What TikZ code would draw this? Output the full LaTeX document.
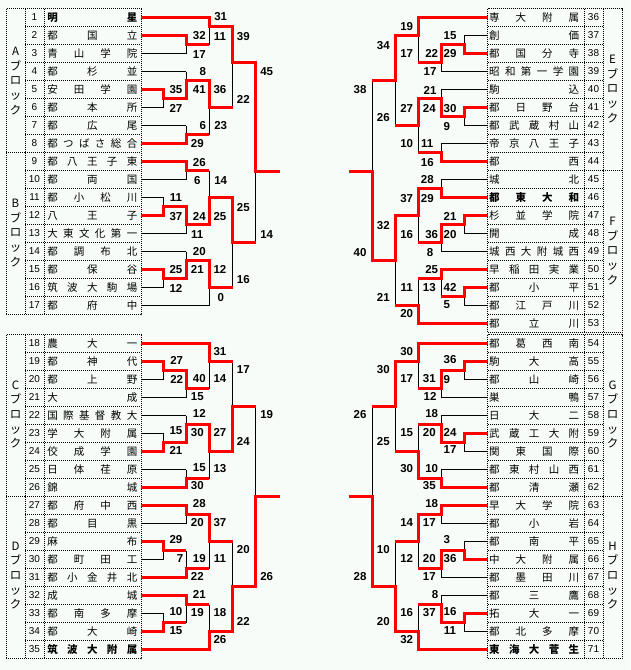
\documentclass[tikz,border=0pt]{standalone}
\usepackage{fontspec}
\setmainfont{Noto Sans CJK JP}
\newfontfamily\digf{Liberation Sans}
\definecolor{bgc}{RGB}{248,252,248}
\def\LLo{141}\def\LLa{163.5}\def\LLb{186.2}\def\LLc{209.4}\def\LLd{232.5}\def\LLe{255.8}\def\LLf{280}
\def\RRo{487.7}\def\RRa{464.4}\def\RRb{441.2}\def\RRc{418.2}\def\RRd{395.1}\def\RRe{372.2}\def\RRf{349}
\def\nmaux#1#2{#1\ifx#2\relax\else\hfill\expandafter\nmaux\expandafter#2\fi}
\newcommand\nm[1]{\makebox[90pt][s]{\nmaux#1\relax}}
\tikzset{
 bk/.style={line width=1pt,black},
 rd/.style={line width=3pt,red,line join=miter},
 dotln/.style={line width=0.8pt,dash pattern=on 1pt off 1pt},
 numst/.style={inner sep=0pt,font=\digf\fontsize{10}{10}\selectfont},
 namest/.style={inner sep=0pt,font=\fontsize{10.5}{11}\selectfont},
 namebf/.style={inner sep=0pt,font=\fontsize{10.5}{11}\selectfont\bfseries},
 sc/.style={inner sep=0pt,font=\digf\bfseries\fontsize{11.5}{12}\selectfont},
 blk/.style={inner sep=0pt,align=center,font=\fontsize{11.5}{14.6}\selectfont},
}
\newcommand\lteam[4][namest]{\node[numst] (n#2) at (34.5,#3) {#2};\node[#1] (t#2) at (92.3,#3) {\nm{#4}};}
\newcommand\rteam[4][namest]{\node[numst] (n#2) at (593.5,#3) {#2};\node[#1] (t#2) at (534.2,#3) {\nm{#4}};}
\newcommand\mtc[5]{\draw[bk] (#1,#2) -- (#1,#3) (#1,#4) -- (#5,#4);}
\newcommand\scr[4]{\node[sc] (#1) at (#2,#3) {#4};}
\begin{document}
\begin{tikzpicture}[x=1pt,y=-1pt]
\fill[bgc] (0,0) rectangle (630,670);
\useasboundingbox (0,0) rectangle (630,670);
% ---------- tables ----------
\draw[dotln] (6,8.5) rectangle (141,314.5);
\draw[dotln] (25,8.5) -- (25,314.5) (44,8.5) -- (44,314.5) (6,152.5) -- (25,152.5);
\foreach \k in {1,...,16} \draw[dotln] (25,{8.5+18*\k}) -- (141,{8.5+18*\k});
\draw[dotln] (6,334.5) rectangle (141,658.5);
\draw[dotln] (25,334.5) -- (25,658.5) (44,334.5) -- (44,658.5) (6,496.5) -- (25,496.5);
\foreach \k in {1,...,17} \draw[dotln] (25,{334.5+18*\k}) -- (141,{334.5+18*\k});
\draw[dotln] (487.7,8.5) rectangle (622,332.5);
\draw[dotln] (584,8.5) -- (584,332.5) (603,8.5) -- (603,332.5) (603,170.5) -- (622,170.5);
\foreach \k in {1,...,17} \draw[dotln] (487.7,{8.5+18*\k}) -- (603,{8.5+18*\k});
\draw[dotln] (487.7,334.5) rectangle (622,658.5);
\draw[dotln] (584,334.5) -- (584,658.5) (603,334.5) -- (603,658.5) (603,496.5) -- (622,496.5);
\foreach \k in {1,...,17} \draw[dotln] (487.7,{334.5+18*\k}) -- (603,{334.5+18*\k});
% block labels
\node[blk] (bA) at (15.5,81) {A\\ブ\\ロ\\ッ\\ク};
\node[blk] (bB) at (15.5,233) {B\\ブ\\ロ\\ッ\\ク};
\node[blk] (bC) at (15.5,414.5) {C\\ブ\\ロ\\ッ\\ク};
\node[blk] (bD) at (15.5,575.5) {D\\ブ\\ロ\\ッ\\ク};
\node[blk] (bE) at (612.5,89) {E\\ブ\\ロ\\ッ\\ク};
\node[blk] (bF) at (612.5,251) {F\\ブ\\ロ\\ッ\\ク};
\node[blk] (bG) at (612.5,414.5) {G\\ブ\\ロ\\ッ\\ク};
\node[blk] (bH) at (612.5,575.5) {H\\ブ\\ロ\\ッ\\ク};
% teams left
\lteam[namebf]{1}{17.5}{明星}
\lteam{2}{35.5}{都国立}
\lteam{3}{53.5}{青山学院}
\lteam{4}{71.5}{都杉並}
\lteam{5}{89.5}{安田学園}
\lteam{6}{107.5}{都本所}
\lteam{7}{125.5}{都広尾}
\lteam{8}{143.5}{都つばさ総合}
\lteam{9}{161.5}{都八王子東}
\lteam{10}{179.5}{都両国}
\lteam{11}{197.5}{都小松川}
\lteam{12}{215.5}{八王子}
\lteam{13}{233.5}{大東文化第一}
\lteam{14}{251.5}{都調布北}
\lteam{15}{269.5}{都保谷}
\lteam{16}{287.5}{筑波大駒場}
\lteam{17}{305.5}{都府中}
\lteam{18}{343.5}{農大一}
\lteam{19}{361.5}{都神代}
\lteam{20}{379.5}{都上野}
\lteam{21}{397.5}{大成}
\lteam{22}{415.5}{国際基督教大}
\lteam{23}{433.5}{学大附属}
\lteam{24}{451.5}{佼成学園}
\lteam{25}{469.5}{日体荏原}
\lteam{26}{487.5}{錦城}
\lteam{27}{505.5}{都府中西}
\lteam{28}{523.5}{都目黒}
\lteam{29}{541.5}{麻布}
\lteam{30}{559.5}{都町田工}
\lteam{31}{577.5}{都小金井北}
\lteam{32}{595.5}{成城}
\lteam{33}{613.5}{都南多摩}
\lteam{34}{631.5}{都大崎}
\lteam[namebf]{35}{649.5}{筑波大附属}
% teams right
\rteam{36}{17.5}{専大附属}
\rteam{37}{35.5}{創価}
\rteam{38}{53.5}{都国分寺}
\rteam{39}{71.5}{昭和第一学園}
\rteam{40}{89.5}{駒込}
\rteam{41}{107.5}{都日野台}
\rteam{42}{125.5}{都武蔵村山}
\rteam{43}{143.5}{帝京八王子}
\rteam{44}{161.5}{都西}
\rteam{45}{179.5}{城北}
\rteam[namebf]{46}{197.5}{都東大和}
\rteam{47}{215.5}{杉並学院}
\rteam{48}{233.5}{開成}
\rteam{49}{251.5}{城西大附城西}
\rteam{50}{269.5}{早稲田実業}
\rteam{51}{287.5}{都小平}
\rteam{52}{305.5}{都江戸川}
\rteam{53}{323.5}{都立川}
\rteam{54}{343.5}{都葛西南}
\rteam{55}{361.5}{駒大高}
\rteam{56}{379.5}{都山崎}
\rteam{57}{397.5}{巣鴨}
\rteam{58}{415.5}{日大二}
\rteam{59}{433.5}{武蔵工大附}
\rteam{60}{451.5}{関東国際}
\rteam{61}{469.5}{都東村山西}
\rteam{62}{487.5}{都清瀬}
\rteam{63}{505.5}{早大学院}
\rteam{64}{523.5}{都小岩}
\rteam{65}{541.5}{都南平}
\rteam{66}{559.5}{中大附属}
\rteam{67}{577.5}{都墨田川}
\rteam{68}{595.5}{都三鷹}
\rteam{69}{613.5}{拓大一}
\rteam{70}{631.5}{都北多摩}
\rteam[namebf]{71}{649.5}{東海大菅生}
% ---------- black skeleton ----------
\foreach \y/\x in {17.5/\LLc,35.5/\LLb,53.5/\LLb,71.5/\LLb,89.5/\LLa,107.5/\LLa,125.5/\LLb,143.5/\LLb,161.5/\LLb,179.5/\LLb,197.5/\LLa,215.5/\LLa,233.5/\LLb,251.5/\LLb,269.5/\LLa,287.5/\LLa,305.5/\LLc,
 343.5/\LLc,361.5/\LLa,379.5/\LLa,397.5/\LLb,415.5/\LLb,433.5/\LLa,451.5/\LLa,469.5/\LLb,487.5/\LLb,505.5/\LLb,523.5/\LLb,541.5/\LLa,559.5/\LLa,577.5/\LLb,595.5/\LLb,613.5/\LLa,631.5/\LLa,649.5/\LLc}
 \draw[bk] (\LLo,\y) -- (\x,\y);
\foreach \y/\x in {17.5/\RRc,35.5/\RRa,53.5/\RRa,71.5/\RRb,89.5/\RRb,107.5/\RRa,125.5/\RRa,143.5/\RRb,161.5/\RRb,179.5/\RRb,197.5/\RRb,215.5/\RRa,233.5/\RRa,251.5/\RRb,269.5/\RRb,287.5/\RRa,305.5/\RRa,323.5/\RRc,
 343.5/\RRc,361.5/\RRa,379.5/\RRa,397.5/\RRb,415.5/\RRb,433.5/\RRa,451.5/\RRa,469.5/\RRb,487.5/\RRb,505.5/\RRb,523.5/\RRb,541.5/\RRa,559.5/\RRa,577.5/\RRb,595.5/\RRb,613.5/\RRa,631.5/\RRa,649.5/\RRc}
 \draw[bk] (\RRo,\y) -- (\x,\y);
% left upper
\mtc{\LLb}{35.5}{53.5}{44.5}{\LLc}
\mtc{\LLc}{17.5}{44.5}{26.5}{\LLd}
\mtc{\LLa}{89.5}{107.5}{98.5}{\LLb}
\mtc{\LLb}{71.5}{98.5}{80.5}{\LLc}
\mtc{\LLb}{125.5}{143.5}{134.5}{\LLc}
\mtc{\LLc}{80.5}{134.5}{107.5}{\LLd}
\mtc{\LLd}{26.5}{107.5}{62.5}{\LLe}
\mtc{\LLb}{161.5}{179.5}{170.5}{\LLc}
\mtc{\LLa}{197.5}{215.5}{206.5}{\LLb}
\mtc{\LLb}{206.5}{233.5}{224.5}{\LLc}
\mtc{\LLc}{170.5}{224.5}{197.5}{\LLd}
\mtc{\LLa}{269.5}{287.5}{278.5}{\LLb}
\mtc{\LLb}{251.5}{278.5}{260.5}{\LLc}
\mtc{\LLc}{260.5}{305.5}{287.5}{\LLd}
\mtc{\LLd}{197.5}{287.5}{242.5}{\LLe}
\mtc{\LLe}{62.5}{242.5}{171}{\LLf}
% left lower
\mtc{\LLa}{361.5}{379.5}{370.5}{\LLb}
\mtc{\LLb}{370.5}{397.5}{388.5}{\LLc}
\mtc{\LLc}{343.5}{388.5}{361.5}{\LLd}
\mtc{\LLa}{433.5}{451.5}{442.5}{\LLb}
\mtc{\LLb}{415.5}{442.5}{424.5}{\LLc}
\mtc{\LLb}{469.5}{487.5}{478.5}{\LLc}
\mtc{\LLc}{424.5}{478.5}{451.5}{\LLd}
\mtc{\LLd}{361.5}{451.5}{406.5}{\LLe}
\mtc{\LLb}{505.5}{523.5}{514.5}{\LLc}
\mtc{\LLa}{541.5}{559.5}{550.5}{\LLb}
\mtc{\LLb}{550.5}{577.5}{568.5}{\LLc}
\mtc{\LLc}{514.5}{568.5}{541.5}{\LLd}
\mtc{\LLa}{613.5}{631.5}{622.5}{\LLb}
\mtc{\LLb}{595.5}{622.5}{604.5}{\LLc}
\mtc{\LLc}{604.5}{649.5}{631.5}{\LLd}
\mtc{\LLd}{541.5}{631.5}{586.5}{\LLe}
\mtc{\LLe}{406.5}{586.5}{496.5}{\LLf}
% right upper
\mtc{\RRa}{35.5}{53.5}{44.5}{\RRb}
\mtc{\RRb}{44.5}{71.5}{62.5}{\RRc}
\mtc{\RRc}{17.5}{62.5}{35.5}{\RRd}
\mtc{\RRa}{107.5}{125.5}{116.5}{\RRb}
\mtc{\RRb}{89.5}{116.5}{98.5}{\RRc}
\mtc{\RRb}{143.5}{161.5}{152.5}{\RRc}
\mtc{\RRc}{98.5}{152.5}{125.5}{\RRd}
\mtc{\RRd}{35.5}{125.5}{80.5}{\RRe}
\mtc{\RRb}{179.5}{197.5}{188.5}{\RRc}
\mtc{\RRa}{215.5}{233.5}{224.5}{\RRb}
\mtc{\RRb}{224.5}{251.5}{242.5}{\RRc}
\mtc{\RRc}{188.5}{242.5}{215.5}{\RRd}
\mtc{\RRa}{287.5}{305.5}{296.5}{\RRb}
\mtc{\RRb}{269.5}{296.5}{278.5}{\RRc}
\mtc{\RRc}{278.5}{323.5}{305.5}{\RRd}
\mtc{\RRd}{215.5}{305.5}{260.5}{\RRe}
\mtc{\RRe}{80.5}{260.5}{171}{\RRf}
% right lower
\mtc{\RRa}{361.5}{379.5}{370.5}{\RRb}
\mtc{\RRb}{370.5}{397.5}{388.5}{\RRc}
\mtc{\RRc}{343.5}{388.5}{361.5}{\RRd}
\mtc{\RRa}{433.5}{451.5}{442.5}{\RRb}
\mtc{\RRb}{415.5}{442.5}{424.5}{\RRc}
\mtc{\RRb}{469.5}{487.5}{478.5}{\RRc}
\mtc{\RRc}{424.5}{478.5}{451.5}{\RRd}
\mtc{\RRd}{361.5}{451.5}{406.5}{\RRe}
\mtc{\RRb}{505.5}{523.5}{514.5}{\RRc}
\mtc{\RRa}{541.5}{559.5}{550.5}{\RRb}
\mtc{\RRb}{550.5}{577.5}{568.5}{\RRc}
\mtc{\RRc}{514.5}{568.5}{541.5}{\RRd}
\mtc{\RRa}{613.5}{631.5}{622.5}{\RRb}
\mtc{\RRb}{595.5}{622.5}{604.5}{\RRc}
\mtc{\RRc}{604.5}{649.5}{631.5}{\RRd}
\mtc{\RRd}{541.5}{631.5}{586.5}{\RRe}
\mtc{\RRe}{406.5}{586.5}{496.5}{\RRf}
% ---------- red winner paths ----------
\draw[rd] (\LLo,17.5) -- (\LLc,17.5) -- (\LLc,26.5) -- (\LLd,26.5) -- (\LLd,62.5) -- (\LLe,62.5) -- (\LLe,171) -- (\LLf,171);
\draw[rd] (\LLo,35.5) -- (\LLb,35.5) -- (\LLb,44.5) -- (\LLc,44.5);
\draw[rd] (\LLo,89.5) -- (\LLa,89.5) -- (\LLa,98.5) -- (\LLb,98.5) -- (\LLb,80.5) -- (\LLc,80.5) -- (\LLc,107.5) -- (\LLd,107.5);
\draw[rd] (\LLo,143.5) -- (\LLb,143.5) -- (\LLb,134.5) -- (\LLc,134.5);
\draw[rd] (\LLo,161.5) -- (\LLb,161.5) -- (\LLb,170.5) -- (\LLc,170.5);
\draw[rd] (\LLo,215.5) -- (\LLa,215.5) -- (\LLa,206.5) -- (\LLb,206.5) -- (\LLb,224.5) -- (\LLc,224.5) -- (\LLc,197.5) -- (\LLd,197.5) -- (\LLd,242.5) -- (\LLe,242.5);
\draw[rd] (\LLo,269.5) -- (\LLa,269.5) -- (\LLa,278.5) -- (\LLb,278.5) -- (\LLb,260.5) -- (\LLc,260.5) -- (\LLc,287.5) -- (\LLd,287.5);
\draw[rd] (\LLo,343.5) -- (\LLc,343.5) -- (\LLc,361.5) -- (\LLd,361.5);
\draw[rd] (\LLo,361.5) -- (\LLa,361.5) -- (\LLa,370.5) -- (\LLb,370.5) -- (\LLb,388.5) -- (\LLc,388.5);
\draw[rd] (\LLo,451.5) -- (\LLa,451.5) -- (\LLa,442.5) -- (\LLb,442.5) -- (\LLb,424.5) -- (\LLc,424.5) -- (\LLc,451.5) -- (\LLd,451.5) -- (\LLd,406.5) -- (\LLe,406.5);
\draw[rd] (\LLo,487.5) -- (\LLb,487.5) -- (\LLb,478.5) -- (\LLc,478.5);
\draw[rd] (\LLo,505.5) -- (\LLb,505.5) -- (\LLb,514.5) -- (\LLc,514.5) -- (\LLc,541.5) -- (\LLd,541.5);
\draw[rd] (\LLo,541.5) -- (\LLa,541.5) -- (\LLa,550.5) -- (\LLb,550.5);
\draw[rd] (\LLo,577.5) -- (\LLb,577.5) -- (\LLb,568.5) -- (\LLc,568.5);
\draw[rd] (\LLo,595.5) -- (\LLb,595.5) -- (\LLb,604.5) -- (\LLc,604.5);
\draw[rd] (\LLo,631.5) -- (\LLa,631.5) -- (\LLa,622.5) -- (\LLb,622.5);
\draw[rd] (\LLo,649.5) -- (\LLc,649.5) -- (\LLc,631.5) -- (\LLd,631.5) -- (\LLd,586.5) -- (\LLe,586.5) -- (\LLe,496.5) -- (\LLf,496.5);
\draw[rd] (\RRo,17.5) -- (\RRc,17.5) -- (\RRc,35.5) -- (\RRd,35.5) -- (\RRd,80.5) -- (\RRe,80.5);
\draw[rd] (\RRo,53.5) -- (\RRa,53.5) -- (\RRa,44.5) -- (\RRb,44.5) -- (\RRb,62.5) -- (\RRc,62.5);
\draw[rd] (\RRo,107.5) -- (\RRa,107.5) -- (\RRa,116.5) -- (\RRb,116.5) -- (\RRb,98.5) -- (\RRc,98.5) -- (\RRc,125.5) -- (\RRd,125.5);
\draw[rd] (\RRo,161.5) -- (\RRb,161.5) -- (\RRb,152.5) -- (\RRc,152.5);
\draw[rd] (\RRo,197.5) -- (\RRb,197.5) -- (\RRb,188.5) -- (\RRc,188.5) -- (\RRc,215.5) -- (\RRd,215.5) -- (\RRd,260.5) -- (\RRe,260.5) -- (\RRe,171) -- (\RRf,171);
\draw[rd] (\RRo,215.5) -- (\RRa,215.5) -- (\RRa,224.5) -- (\RRb,224.5) -- (\RRb,242.5) -- (\RRc,242.5);
\draw[rd] (\RRo,269.5) -- (\RRb,269.5) -- (\RRb,278.5) -- (\RRc,278.5);
\draw[rd] (\RRo,287.5) -- (\RRa,287.5) -- (\RRa,296.5) -- (\RRb,296.5);
\draw[rd] (\RRo,323.5) -- (\RRc,323.5) -- (\RRc,305.5) -- (\RRd,305.5);
\draw[rd] (\RRo,343.5) -- (\RRc,343.5) -- (\RRc,361.5) -- (\RRd,361.5) -- (\RRd,406.5) -- (\RRe,406.5);
\draw[rd] (\RRo,361.5) -- (\RRa,361.5) -- (\RRa,370.5) -- (\RRb,370.5) -- (\RRb,388.5) -- (\RRc,388.5);
\draw[rd] (\RRo,433.5) -- (\RRa,433.5) -- (\RRa,442.5) -- (\RRb,442.5) -- (\RRb,424.5) -- (\RRc,424.5);
\draw[rd] (\RRo,487.5) -- (\RRb,487.5) -- (\RRb,478.5) -- (\RRc,478.5) -- (\RRc,451.5) -- (\RRd,451.5);
\draw[rd] (\RRo,505.5) -- (\RRb,505.5) -- (\RRb,514.5) -- (\RRc,514.5) -- (\RRc,541.5) -- (\RRd,541.5);
\draw[rd] (\RRo,559.5) -- (\RRa,559.5) -- (\RRa,550.5) -- (\RRb,550.5) -- (\RRb,568.5) -- (\RRc,568.5);
\draw[rd] (\RRo,613.5) -- (\RRa,613.5) -- (\RRa,622.5) -- (\RRb,622.5) -- (\RRb,604.5) -- (\RRc,604.5);
\draw[rd] (\RRo,649.5) -- (\RRc,649.5) -- (\RRc,631.5) -- (\RRd,631.5) -- (\RRd,586.5) -- (\RRe,586.5) -- (\RRe,496.5) -- (\RRf,496.5);
% ---------- scores ----------
\scr{a1}{199.3}{36}{32}\scr{a2}{199.3}{54.3}{17}
\scr{a3}{220.7}{16.7}{31}\scr{a4}{220}{36.7}{11}
\scr{a5}{176}{90}{35}\scr{a6}{176}{108.3}{27}
\scr{a7}{202.7}{71.7}{8}\scr{a8}{199.3}{90}{41}
\scr{a9}{202.7}{126}{6}\scr{a10}{197.3}{144}{29}
\scr{a11}{220}{90}{36}\scr{a12}{220.7}{126}{23}
\scr{a13}{243.3}{36.7}{39}\scr{a14}{243.3}{99}{22}
\scr{b1}{199.3}{162.3}{26}\scr{b2}{197.3}{180.7}{6}
\scr{b3}{176}{197.7}{11}\scr{b4}{176}{216.7}{37}
\scr{b5}{199.3}{216.7}{24}\scr{b6}{197.3}{235}{11}
\scr{b7}{220.7}{180.7}{14}\scr{b8}{220}{216.7}{25}
\scr{b9}{176}{269.3}{25}\scr{b10}{176}{288.3}{12}
\scr{b11}{199.3}{251.7}{20}\scr{b12}{197.3}{269.3}{21}
\scr{b13}{220}{269.3}{12}\scr{b14}{220.7}{297.3}{0}
\scr{b15}{243.3}{207.3}{25}\scr{b16}{243.3}{279.3}{16}
\scr{ab1}{266.7}{71.7}{45}\scr{ab2}{266.7}{235}{14}
\scr{c1}{176.7}{360}{27}\scr{c2}{176.7}{379}{22}
\scr{c3}{199.3}{378.3}{40}\scr{c4}{197.3}{396.7}{15}
\scr{c5}{220}{351.7}{31}\scr{c6}{220}{379}{14}
\scr{c7}{176}{431}{15}\scr{c8}{176}{450}{21}
\scr{c9}{199.3}{413.3}{12}\scr{c10}{197.3}{432.7}{30}
\scr{c11}{199.3}{467.3}{15}\scr{c12}{197.3}{486}{30}
\scr{c13}{220}{432.7}{27}\scr{c14}{220}{468.3}{13}
\scr{c15}{243.3}{369.3}{17}\scr{c16}{243.3}{441.7}{24}
\scr{d1}{199.3}{503.3}{28}\scr{d2}{197.3}{522.7}{20}
\scr{d3}{176}{540}{29}\scr{d4}{180}{558.7}{7}
\scr{d5}{199.3}{558.7}{19}\scr{d6}{197.3}{576.7}{22}
\scr{d7}{220}{522.7}{37}\scr{d8}{220}{558.7}{11}
\scr{d9}{176}{611.7}{10}\scr{d10}{176}{630.7}{15}
\scr{d11}{199.3}{594}{21}\scr{d12}{197.3}{612.7}{19}
\scr{d13}{220}{612.7}{18}\scr{d14}{220}{640}{26}
\scr{d15}{243.3}{549.3}{20}\scr{d16}{243.3}{621.7}{22}
\scr{cd1}{266.7}{415}{19}\scr{cd2}{266.7}{576.7}{26}
\scr{e1}{450}{36}{15}\scr{e2}{450}{53.3}{29}
\scr{e3}{431.7}{53.3}{22}\scr{e4}{430}{71.7}{17}
\scr{e5}{406.7}{26.7}{19}\scr{e6}{406.7}{54}{17}
\scr{e7}{450}{108.3}{30}\scr{e8}{446.7}{126.7}{9}
\scr{e9}{430}{90}{21}\scr{e10}{429.3}{108.3}{24}
\scr{e11}{427.3}{144}{11}\scr{e12}{427.3}{162.3}{16}
\scr{e13}{406.7}{108.3}{27}\scr{e14}{406.7}{144}{10}
\scr{e15}{383.3}{45.7}{34}\scr{e16}{383.3}{117.3}{26}
\scr{f1}{427.3}{180}{28}\scr{f2}{427.3}{198.3}{29}
\scr{f3}{450}{216}{21}\scr{f4}{450}{234.3}{20}
\scr{f5}{431.7}{234.3}{36}\scr{f6}{430}{252.3}{8}
\scr{f7}{406.7}{198.3}{37}\scr{f8}{406.7}{234.3}{16}
\scr{f9}{450}{287.3}{42}\scr{f10}{446.7}{305}{5}
\scr{f11}{431.7}{269.3}{25}\scr{f12}{429.3}{287.3}{13}
\scr{f13}{406.7}{287.3}{11}\scr{f14}{406.7}{314}{20}
\scr{f15}{383.3}{226}{32}\scr{f16}{383.3}{297.3}{21}
\scr{ef1}{360}{90}{38}\scr{ef2}{360}{252.7}{40}
\scr{g1}{450}{360}{36}\scr{g2}{446.7}{379.3}{9}
\scr{g3}{429.3}{378.3}{31}\scr{g4}{430}{396.7}{12}
\scr{g5}{406.7}{351.7}{30}\scr{g6}{406.7}{379}{17}
\scr{g7}{450}{432.3}{24}\scr{g8}{450}{450}{17}
\scr{g9}{431.7}{413.3}{18}\scr{g10}{429.3}{432.3}{20}
\scr{g11}{431.7}{468.3}{10}\scr{g12}{429.3}{486}{35}
\scr{g13}{406.7}{432.3}{15}\scr{g14}{406.7}{468.3}{30}
\scr{g15}{383.3}{370}{30}\scr{g16}{383.3}{441.7}{25}
\scr{h1}{431.7}{503.3}{18}\scr{h2}{429.3}{522.7}{17}
\scr{h3}{446.7}{540}{3}\scr{h4}{450}{558.7}{36}
\scr{h5}{429.3}{558.7}{20}\scr{h6}{429.3}{576.7}{17}
\scr{h7}{406.7}{522.7}{14}\scr{h8}{406.7}{558.7}{12}
\scr{h9}{450}{611.7}{16}\scr{h10}{450}{630.7}{11}
\scr{h11}{435}{594.3}{8}\scr{h12}{429.3}{612.7}{37}
\scr{h13}{406.7}{612.7}{16}\scr{h14}{406.7}{640}{32}
\scr{h15}{383.3}{549.3}{10}\scr{h16}{383.3}{621.7}{20}
\scr{gh1}{360}{415}{26}\scr{gh2}{360}{576.7}{28}
\end{tikzpicture}
\end{document}
